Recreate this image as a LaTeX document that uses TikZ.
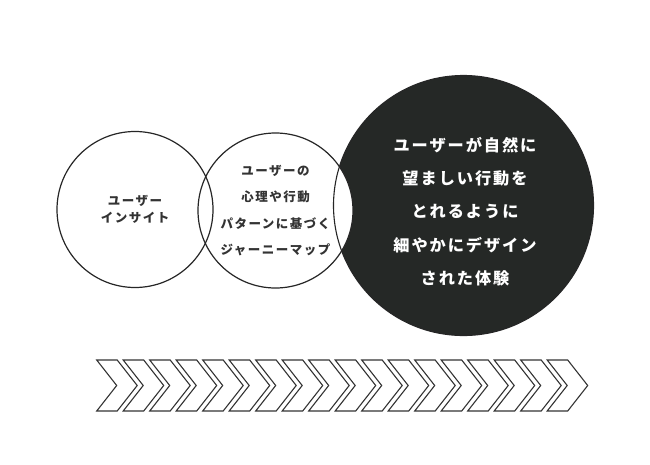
\documentclass[tikz,border=0pt]{standalone}
\usepackage{fontspec}
\newfontfamily\jp[LetterSpace=12]{Noto Sans CJK JP}
\definecolor{ink}{HTML}{262626}
\definecolor{txt}{HTML}{333333}
\definecolor{dark}{HTML}{252826}
\definecolor{chevc}{HTML}{333333}
\tikzset{
  ring/.style={circle, draw=ink, line width=1.2pt, inner sep=0pt, align=center, text=txt},
  smalltxt/.style={font=\jp\bfseries\fontsize{12.5}{16.7}\selectfont},
  midtxt/.style={font=\jp\bfseries\fontsize{12.5}{26.2}\selectfont},
  bigtxt/.style={font=\jp\bfseries\fontsize{16.2}{33.2}\selectfont},
  chev/.style={draw=chevc, line width=1.1pt, line join=miter}
}
\begin{document}
\begin{tikzpicture}[x=1pt, y=-1pt]
\useasboundingbox (0,0) rectangle (650,464);
% large dark circle
\node[circle, fill=dark, inner sep=0pt, minimum size=260pt] (c3) at (463.5,205.5) {};
% middle circle (white filled, covers part of the dark circle)
\node[ring, fill=white, minimum size=155pt, midtxt] (c2) at (275.5,210.5)
  {ユーザーの\\心理や行動\\パターンに基づく\\ジャーニーマップ};
% left circle
\node[ring, minimum size=156pt, smalltxt] (c1) at (135,209.5)
  {ユーザー\\インサイト};
% outline of the dark circle over the white lens
\draw[ink, line width=1.1pt] (c3.center) circle[radius=130];
% text of the dark circle
\node[text=white, align=center, bigtxt] (c3t) at (465,211.5)
  {ユーザーが自然に\\望ましい行動を\\とれるように\\細やかにデザイン\\された体験};
% chevrons
\foreach \i in {0,...,17}{
  \draw[chev] (96.7+26.5*\i,360) -- ++(20.5,0) -- ++(20,25.5) -- ++(-20,25.5)
     -- ++(-20.5,0) -- ++(20,-25.5) -- cycle;
}
\end{tikzpicture}
\end{document}
